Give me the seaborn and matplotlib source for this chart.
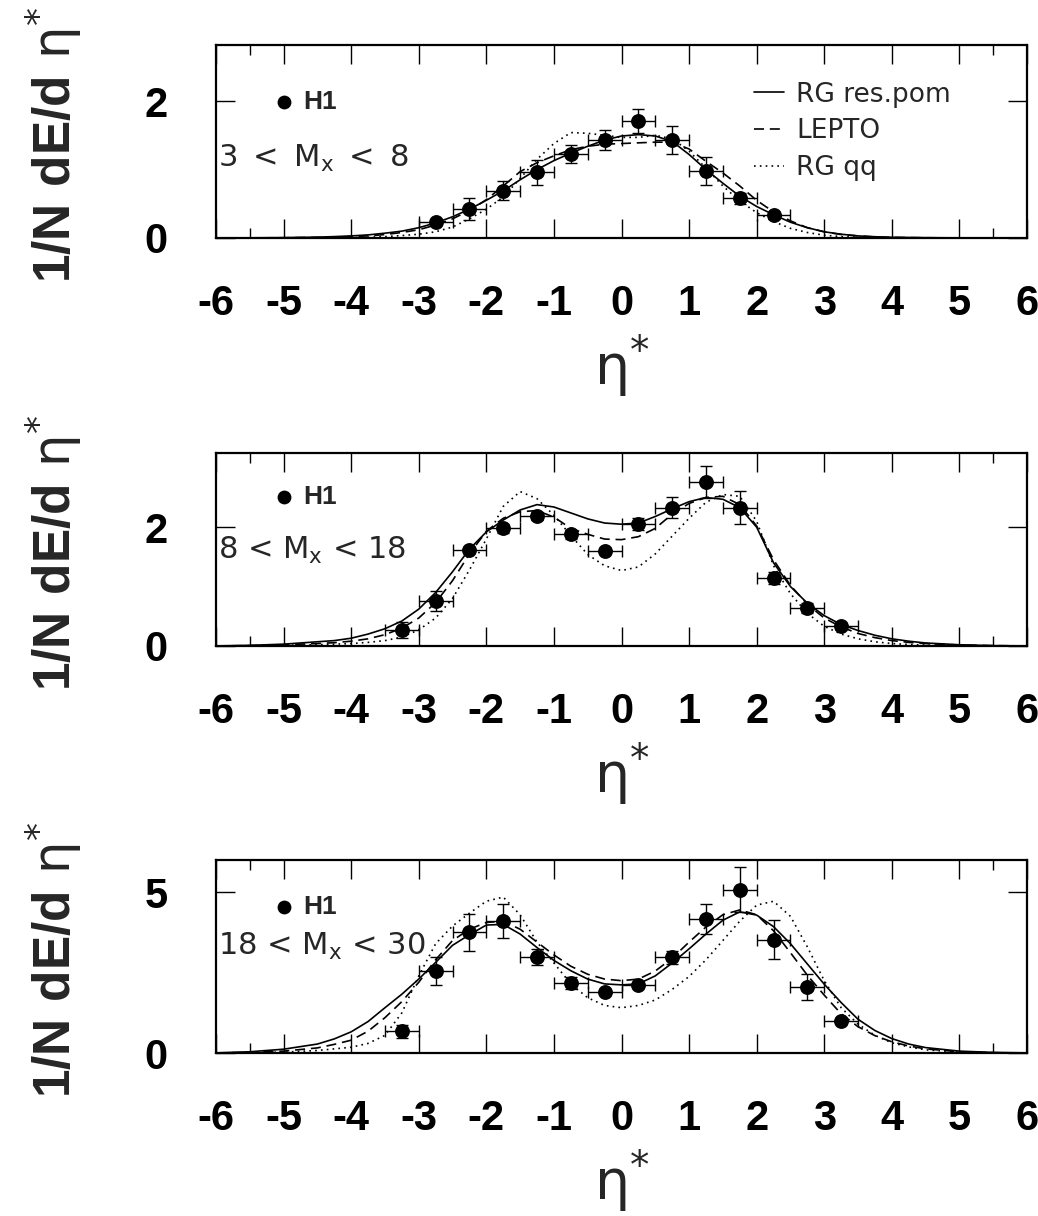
import matplotlib
matplotlib.use("Agg")
import matplotlib.pyplot as plt
from matplotlib.lines import Line2D
import pandas as pd
import seaborn as sns

# ---------------- data ----------------
eta_grid = [-6.0, -5.5, -5.0, -4.5, -4.25, -4.0, -3.75, -3.5, -3.25, -3.0, -2.75,
            -2.5, -2.25, -2.0, -1.75, -1.5, -1.25, -1.0, -0.75, -0.5, -0.25,
            0.0, 0.25, 0.5, 0.75, 1.0, 1.25, 1.5, 1.75, 2.0, 2.25,
            2.5, 2.75, 3.0, 3.25, 3.5, 3.75, 4.0, 4.25, 4.5, 5.0, 5.5, 6.0]

model_names = ["RG res.pom", "LEPTO", "RG qq"]
mx_labels = ["3\u2002<\u2002M$_{\\mathrm{x}}$\u2002<\u20028",
             "8 < M$_{\\mathrm{x}}$ < 18",
             "18 < M$_{\\mathrm{x}}$ < 30"]

# panel 1 : 3 < Mx < 8
p1_respom = [0.0, 0.002, 0.005, 0.012, 0.02, 0.03, 0.045, 0.07, 0.1, 0.15, 0.22,
             0.31, 0.42, 0.55, 0.69, 0.85, 1.0, 1.13, 1.24, 1.34, 1.43,
             1.49, 1.51, 1.49, 1.41, 1.22, 1.0, 0.8, 0.61, 0.46, 0.34,
             0.23, 0.15, 0.09, 0.055, 0.03, 0.018, 0.01, 0.007, 0.004, 0.001, 0.0, 0.0]
p1_lepto = [0.0, 0.001, 0.003, 0.008, 0.013, 0.02, 0.03, 0.05, 0.08, 0.12, 0.19,
            0.28, 0.4, 0.56, 0.76, 0.97, 1.1, 1.2, 1.29, 1.34, 1.37,
            1.38, 1.39, 1.4, 1.4, 1.3, 1.12, 0.95, 0.76, 0.55, 0.38,
            0.25, 0.15, 0.09, 0.05, 0.03, 0.015, 0.008, 0.005, 0.003, 0.001, 0.0, 0.0]
p1_rgqq = [0.0, 0.0, 0.001, 0.002, 0.003, 0.005, 0.01, 0.02, 0.035, 0.055, 0.09,
           0.16, 0.28, 0.42, 0.6, 0.87, 1.15, 1.38, 1.54, 1.53, 1.5,
           1.47, 1.47, 1.5, 1.45, 1.27, 1.02, 0.76, 0.54, 0.37, 0.24,
           0.14, 0.08, 0.04, 0.02, 0.01, 0.005, 0.002, 0.001, 0.0, 0.0, 0.0, 0.0]
h1_eta_p1 = [-2.75, -2.25, -1.75, -1.25, -0.75, -0.25, 0.25, 0.75, 1.25, 1.75, 2.25]
h1_val_p1 = [0.23, 0.42, 0.69, 0.96, 1.23, 1.43, 1.71, 1.43, 0.98, 0.58, 0.33]
h1_err_p1 = [0.03, 0.16, 0.14, 0.18, 0.13, 0.15, 0.18, 0.21, 0.2, 0.08, 0.05]

# panel 2 : 8 < Mx < 18
p2_respom = [0.0, 0.01, 0.03, 0.07, 0.09, 0.13, 0.2, 0.29, 0.42, 0.62, 0.9,
             1.25, 1.63, 1.92, 2.12, 2.29, 2.38, 2.34, 2.24, 2.14, 2.07,
             2.05, 2.07, 2.18, 2.31, 2.43, 2.5, 2.47, 2.33, 2.0, 1.4,
             1.0, 0.72, 0.51, 0.36, 0.26, 0.18, 0.12, 0.08, 0.05, 0.02, 0.005, 0.0]
p2_lepto = [0.0, 0.005, 0.02, 0.04, 0.055, 0.08, 0.12, 0.19, 0.3, 0.47, 0.73,
            1.1, 1.55, 1.93, 2.15, 2.26, 2.28, 2.17, 1.98, 1.88, 1.8,
            1.79, 1.84, 1.98, 2.22, 2.4, 2.5, 2.52, 2.38, 2.02, 1.45,
            1.02, 0.7, 0.47, 0.32, 0.21, 0.14, 0.09, 0.06, 0.04, 0.015, 0.005, 0.0]
p2_rgqq = [0.0, 0.003, 0.01, 0.02, 0.03, 0.04, 0.06, 0.09, 0.15, 0.27, 0.47,
           0.8, 1.28, 1.8, 2.35, 2.6, 2.48, 2.2, 1.86, 1.54, 1.35,
           1.27, 1.33, 1.55, 1.85, 2.15, 2.42, 2.55, 2.52, 2.1, 1.35,
           0.88, 0.55, 0.33, 0.2, 0.12, 0.07, 0.04, 0.025, 0.015, 0.005, 0.0, 0.0]
h1_eta_p2 = [-3.25, -2.75, -2.25, -1.75, -1.25, -0.75, -0.25, 0.25, 0.75, 1.25, 1.75, 2.25, 2.75, 3.25]
h1_val_p2 = [0.27, 0.75, 1.61, 1.98, 2.19, 1.88, 1.6, 2.06, 2.33, 2.76, 2.33, 1.15, 0.64, 0.33]
h1_err_p2 = [0.13, 0.17, 0.05, 0.07, 0.07, 0.08, 0.05, 0.1, 0.18, 0.27, 0.28, 0.1, 0.08, 0.05]

# panel 3 : 18 < Mx < 30
p3_respom = [0.005, 0.04, 0.12, 0.28, 0.44, 0.66, 0.98, 1.41, 1.83, 2.3, 2.82,
             3.35, 3.68, 3.98, 4.0, 3.7, 3.28, 2.88, 2.56, 2.3, 2.15,
             2.12, 2.15, 2.4, 2.8, 3.24, 3.7, 4.13, 4.39, 4.29, 3.93,
             3.4, 2.77, 2.14, 1.57, 1.05, 0.7, 0.45, 0.28, 0.17, 0.06, 0.02, 0.005]
p3_lepto = [0.003, 0.02, 0.06, 0.16, 0.27, 0.4, 0.68, 1.1, 1.6, 2.2, 2.9,
            3.5, 3.85, 4.06, 4.1, 3.85, 3.45, 3.05, 2.7, 2.45, 2.3,
            2.25, 2.3, 2.55, 2.95, 3.45, 3.92, 4.3, 4.45, 4.3, 3.8,
            3.12, 2.42, 1.8, 1.22, 0.82, 0.54, 0.35, 0.22, 0.13, 0.04, 0.01, 0.0]
p3_rgqq = [0.0, 0.01, 0.03, 0.08, 0.13, 0.18, 0.3, 0.55, 1.25, 2.4, 3.4,
           3.95, 4.35, 4.72, 4.85, 4.3, 3.45, 2.8, 2.15, 1.72, 1.48,
           1.41, 1.48, 1.65, 1.98, 2.38, 2.9, 3.5, 4.1, 4.6, 4.72,
           4.25, 3.3, 2.25, 1.41, 0.9, 0.55, 0.32, 0.19, 0.1, 0.03, 0.01, 0.0]
h1_eta_p3 = [-3.25, -2.75, -2.25, -1.75, -1.25, -0.75, -0.25, 0.25, 0.75, 1.25, 1.75, 2.25, 2.75, 3.25]
h1_val_p3 = [0.68, 2.56, 3.75, 4.11, 3.0, 2.18, 1.91, 2.11, 2.98, 4.16, 5.08, 3.53, 2.06, 0.99]
h1_err_p3 = [0.2, 0.43, 0.58, 0.52, 0.25, 0.2, 0.05, 0.1, 0.2, 0.47, 0.7, 0.62, 0.41, 0.1]

eta_bin_half = 0.25
x_ticks = [-6, -5, -4, -3, -2, -1, 0, 1, 2, 3, 4, 5, 6]
y_tops = [2.82, 3.25, 6.0]
y_ticks = [[0, 2], [0, 2], [0, 5]]

panels = [
    (p1_respom, p1_lepto, p1_rgqq, h1_eta_p1, h1_val_p1, h1_err_p1),
    (p2_respom, p2_lepto, p2_rgqq, h1_eta_p2, h1_val_p2, h1_err_p2),
    (p3_respom, p3_lepto, p3_rgqq, h1_eta_p3, h1_val_p3, h1_err_p3),
]

# ---------------- style ----------------
sns.set_theme(style="ticks")
plt.rcParams.update({
    "font.family": ["Liberation Sans", "DejaVu Sans"],
    "mathtext.fontset": "custom",
    "mathtext.rm": "DejaVu Sans",
    "mathtext.it": "DejaVu Sans:italic",
    "mathtext.bf": "Liberation Sans:bold",
    "mathtext.sf": "DejaVu Sans",
    "axes.linewidth": 1.6,
    "axes.edgecolor": "black",
    "xtick.color": "black",
    "ytick.color": "black",
    "figure.facecolor": "white",
    "axes.facecolor": "white",
})

dash_map = {"RG res.pom": "", "LEPTO": (6, 3.5), "RG qq": (1, 2.5)}

fig = plt.figure(figsize=(10.38, 12.16), dpi=100)
ax_left, ax_w, ax_h = 0.2081, 0.7813, 0.1587
bottoms = [0.8043, 0.4688, 0.1340]

y_label = r"$\mathbf{1/N\ dE/d}\ \mathrm{\eta}^{*}$"
x_label = r"$\mathrm{\eta}^{*}$"

for i, (cur_a, cur_b, cur_c, hx, hy, he) in enumerate(panels):
    ax = fig.add_axes([ax_left, bottoms[i], ax_w, ax_h])
    n = len(eta_grid)
    df = pd.DataFrame({
        "eta": eta_grid * 3,
        "val": list(cur_a) + list(cur_b) + list(cur_c),
        "model": [model_names[0]] * n + [model_names[1]] * n + [model_names[2]] * n,
    })
    sns.lineplot(data=df, x="eta", y="val", style="model", dashes=dash_map,
                 color="black", linewidth=1.2, estimator=None, sort=True,
                 legend=False, ax=ax)
    ax.errorbar(hx, hy, xerr=eta_bin_half, yerr=he, fmt="none", ecolor="black",
                elinewidth=1.0, capsize=4.5, capthick=1.0, zorder=4)
    sns.scatterplot(x=hx, y=hy, color="black", s=115, edgecolor="black",
                    linewidth=0, zorder=5, ax=ax)

    ax.set_xlim(-6, 6)
    ax.set_ylim(0, y_tops[i])
    ax.set_xticks(x_ticks)
    ax.set_xticklabels([str(t) for t in x_ticks])
    ax.set_xticks([-5.5, 5.5], minor=True)
    ax.set_yticks(y_ticks[i])
    ax.set_yticklabels([str(t) for t in y_ticks[i]])
    ax.tick_params(axis="both", which="major", direction="in", length=14,
                   width=1.0, top=True, right=True, labelsize=30)
    ax.tick_params(axis="x", which="major", pad=33)
    ax.tick_params(axis="y", which="major", pad=35)
    ax.tick_params(axis="x", which="minor", direction="in", length=7,
                   width=1.0, top=True, bottom=True)
    for lab in ax.get_xticklabels() + ax.get_yticklabels():
        lab.set_fontweight("bold")
        lab.set_family("Liberation Sans")

    ax.set_ylabel(y_label, fontsize=37)
    ax.yaxis.set_label_coords(-0.163, 0.485)
    ax.set_xlabel(x_label, fontsize=40)
    ax.xaxis.set_label_coords(0.5, -0.49)

    for s in ax.spines.values():
        s.set_visible(True)
        s.set_linewidth(1.6)
        s.set_color("black")

    # H1 marker legend
    h1_y = [0.705, 0.772, 0.755][i]
    ax.scatter([0.084], [h1_y], s=80, color="black", transform=ax.transAxes,
               clip_on=False, zorder=6)
    ax.text(0.108, h1_y, "H1", transform=ax.transAxes, fontsize=19,
            fontweight="bold", family="Liberation Sans", va="center", ha="left")
    mx_y = [0.41, 0.497, 0.552][i]
    ax.text(0.003, mx_y, mx_labels[i], transform=ax.transAxes, fontsize=22,
            family="DejaVu Sans", va="center", ha="left")

    if i == 0:
        handles = [Line2D([], [], color="black", lw=1.2, linestyle="-"),
                   Line2D([], [], color="black", lw=1.2, dashes=(6, 3.5)),
                   Line2D([], [], color="black", lw=1.2, dashes=(1, 2.5))]
        ax.legend(handles, model_names, loc="upper left",
                  bbox_to_anchor=(0.663, 0.81), frameon=False,
                  handlelength=1.15, handletextpad=0.45, labelspacing=0.4,
                  borderaxespad=0.0, borderpad=0.0,
                  prop={"family": "DejaVu Sans", "size": 19})

fig.savefig("out.png", dpi=100, facecolor="white")
